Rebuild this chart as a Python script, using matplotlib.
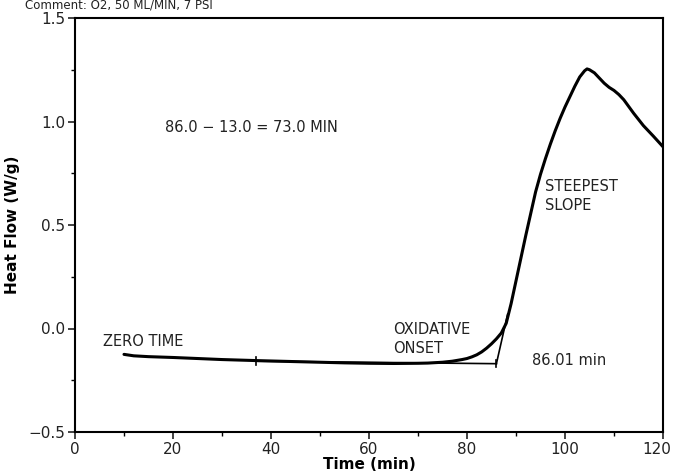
import matplotlib
matplotlib.use("Agg")
import matplotlib.pyplot as plt
from matplotlib.ticker import MultipleLocator
from matplotlib.transforms import ScaledTranslation

# Data
time_min = [10, 12, 15, 20, 25, 30, 37, 45, 50, 55, 60, 65, 70, 72, 75, 77, 79, 80,
            81, 82, 83, 84, 85, 86, 87, 88, 89, 90, 91, 92, 93, 94, 95, 96, 97, 98,
            99, 100, 101, 102, 103, 104, 104.5, 105, 106, 107, 108, 109, 110, 111,
            112, 114, 116, 118, 120]
heat_flow = [-0.125, -0.132, -0.136, -0.140, -0.145, -0.150, -0.155, -0.160, -0.163,
             -0.166, -0.168, -0.169, -0.168, -0.167, -0.163, -0.158, -0.150, -0.145,
             -0.137, -0.127, -0.113, -0.095, -0.074, -0.050, -0.022, 0.025, 0.120,
             0.230, 0.340, 0.450, 0.555, 0.660, 0.745, 0.820, 0.890, 0.955, 1.015,
             1.070, 1.120, 1.170, 1.215, 1.245, 1.254, 1.250, 1.235, 1.210, 1.185,
             1.165, 1.150, 1.130, 1.105, 1.040, 0.980, 0.930, 0.878]

baseline_t = [37, 86.0]
baseline_y = [-0.158, -0.170]
tangent_t = [86.0, 88.3]
tangent_y = [-0.170, 0.070]
marker_t = [37, 86.0]
marker_y0 = [-0.140, -0.150]
marker_y1 = [-0.175, -0.188]

x_ticks = [0, 20, 40, 60, 80, 100, 120]
y_ticks = [-0.5, 0.0, 0.5, 1.0, 1.5]
y_tick_labels = ["\u22120.5", "0.0", "0.5", "1.0", "1.5"]

fig = plt.figure(figsize=(6.73, 4.72), dpi=100)
ax = fig.add_axes([75/673, 40/472, 588/673, 414/472])

ax.plot(time_min, heat_flow, color="black", lw=2.2, solid_capstyle="round")
ax.plot(baseline_t, baseline_y, color="black", lw=1.2)
ax.plot(tangent_t, tangent_y, color="black", lw=1.2)
for t, a, b in zip(marker_t, marker_y0, marker_y1):
    ax.plot([t, t], [a, b], color="black", lw=1.2)

ax.set_xlim(0, 120)
ax.set_ylim(-0.5, 1.5)
ax.set_xticks(x_ticks)
ax.set_yticks(y_ticks)
ax.set_yticklabels(y_tick_labels)
ax.xaxis.set_minor_locator(MultipleLocator(10))
ax.yaxis.set_minor_locator(MultipleLocator(0.25))
ax.tick_params(axis="both", which="major", direction="out", length=5, width=1.2,
               labelsize=11, colors="#222222", pad=2)
ax.tick_params(axis="both", which="minor", direction="out", length=3, width=1)
for s in ax.spines.values():
    s.set_linewidth(1.5)

# nudge the last x tick label so it stays inside the figure
last = ax.get_xticklabels()[-1]
last.set_transform(last.get_transform() + ScaledTranslation(-6/100, 0, fig.dpi_scale_trans))

ax.set_xlabel("Time (min)", fontsize=11, fontweight="bold", labelpad=0)
ax.set_ylabel("Heat Flow (W/g)", fontsize=11, fontweight="bold", labelpad=6)

tc = "#222222"
ax.text(18.4, 0.97, "86.0 \u2212 13.0 = 73.0 MIN", fontsize=10.5, color=tc, va="center")
ax.text(96.0, 0.72, "STEEPEST\nSLOPE", fontsize=10.5, color=tc, va="top", linespacing=1.3)
ax.text(5.8, -0.065, "ZERO TIME", fontsize=10.5, color=tc, va="center")
ax.text(65.0, -0.05, "OXIDATIVE\nONSET", fontsize=10.5, color=tc, va="center", linespacing=1.3)
ax.text(93.3, -0.155, "86.01 min", fontsize=10.5, color=tc, va="center")

fig.text(25/673, 1 - 5/472, "Comment: O2, 50 ML/MIN, 7 PSI", fontsize=8.5, color=tc, va="center")

fig.savefig("out.png", dpi=100)
